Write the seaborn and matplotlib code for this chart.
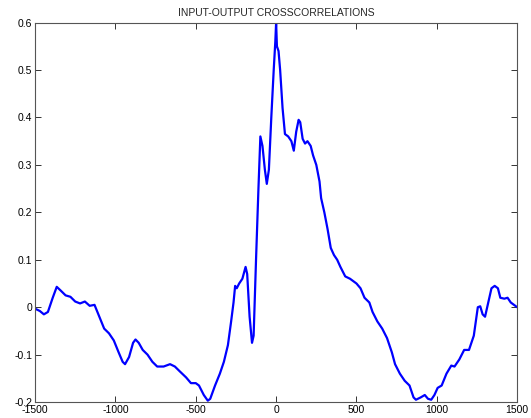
import numpy as np
import pandas as pd
import matplotlib
matplotlib.use("Agg")
import matplotlib.pyplot as plt
import seaborn as sns

# lag (samples) and cross-correlation
lag = [-1500, -1470, -1445, -1420, -1390, -1365, -1340, -1310, -1280, -1250,
       -1220, -1190, -1160, -1130, -1100, -1070, -1040, -1010, -980, -955,
       -940, -915, -890, -875, -855, -830, -800, -770, -740, -700,
       -660, -630, -600, -560, -530, -500, -480, -450, -425, -410,
       -380, -350, -325, -300, -280, -265, -255, -245, -230, -210,
       -190, -180, -165, -150, -140, -125, -110, -98, -85, -70,
       -58, -45, -30, -15, -5, 0, 5, 15, 25, 40,
       55, 75, 95, 110, 125, 140, 150, 165, 180, 195,
       215, 230, 250, 270, 280, 300, 320, 340, 360, 380,
       400, 430, 460, 500, 525, 550, 580, 600, 630, 660,
       690, 720, 740, 770, 800, 830, 855, 870, 900, 925,
       945, 965, 985, 1005, 1030, 1060, 1090, 1110, 1140, 1170,
       1200, 1230, 1255, 1270, 1285, 1300, 1320, 1340, 1360, 1380,
       1395, 1420, 1440, 1460, 1480, 1500]
xcorr = [-0.003, -0.008, -0.015, -0.010, 0.020, 0.043, 0.035, 0.025, 0.022, 0.012,
         0.008, 0.012, 0.003, 0.005, -0.020, -0.045, -0.055, -0.070, -0.095, -0.115,
         -0.120, -0.105, -0.075, -0.068, -0.075, -0.090, -0.100, -0.115, -0.125, -0.125,
         -0.120, -0.125, -0.135, -0.148, -0.160, -0.160, -0.165, -0.185, -0.197, -0.193,
         -0.165, -0.140, -0.115, -0.080, -0.030, 0.010, 0.045, 0.040, 0.050, 0.060,
         0.085, 0.070, -0.020, -0.075, -0.060, 0.100, 0.250, 0.360, 0.340, 0.290,
         0.260, 0.290, 0.400, 0.500, 0.560, 0.600, 0.550, 0.540, 0.500, 0.420,
         0.365, 0.360, 0.350, 0.330, 0.370, 0.395, 0.390, 0.355, 0.345, 0.350,
         0.340, 0.320, 0.300, 0.265, 0.230, 0.200, 0.165, 0.125, 0.110, 0.100,
         0.085, 0.065, 0.060, 0.050, 0.040, 0.020, 0.010, -0.010, -0.030, -0.045,
         -0.065, -0.095, -0.120, -0.140, -0.155, -0.165, -0.190, -0.195, -0.190, -0.185,
         -0.193, -0.195, -0.185, -0.170, -0.165, -0.140, -0.123, -0.125, -0.110, -0.090,
         -0.090, -0.060, 0.000, 0.002, -0.015, -0.020, 0.010, 0.040, 0.045, 0.040,
         0.020, 0.018, 0.020, 0.010, 0.005, 0.000]

xticks = [-1500, -1000, -500, 0, 500, 1000, 1500]
yticks = [-0.2, -0.1, 0, 0.1, 0.2, 0.3, 0.4, 0.5, 0.6]
ylabels = ["-0.2", "-0.1", "0", "0.1", "0.2", "0.3", "0.4", "0.5", "0.6"]

sns.set_style("ticks")
plt.rcParams["font.family"] = ["Liberation Sans", "DejaVu Sans"]

df = pd.DataFrame({"lag": lag, "xcorr": xcorr})

fig = plt.figure(figsize=(5.31, 4.18), dpi=100)
ax = fig.add_axes([0.066, 0.038, 0.908, 0.908])
sns.lineplot(data=df, x="lag", y="xcorr", color="#0000ff", linewidth=1.6, ax=ax)

ax.set_xlim(-1500, 1500)
ax.set_ylim(-0.2, 0.6)
ax.set_xticks(xticks)
ax.set_xticklabels([str(t) for t in xticks])
ax.set_yticks(yticks)
ax.set_yticklabels(ylabels)
ax.set_xlabel("")
ax.set_ylabel("")
ax.tick_params(direction="in", length=4, width=0.7, labelsize=7.5, pad=2,
               top=True, right=True, colors="#333333", labelcolor="black")
for s in ax.spines.values():
    s.set_color("#555555")
    s.set_linewidth(0.8)
ax.set_title("INPUT-OUTPUT CROSSCORRELATIONS", fontsize=7.5, pad=5)

fig.savefig("out.png", dpi=100)
